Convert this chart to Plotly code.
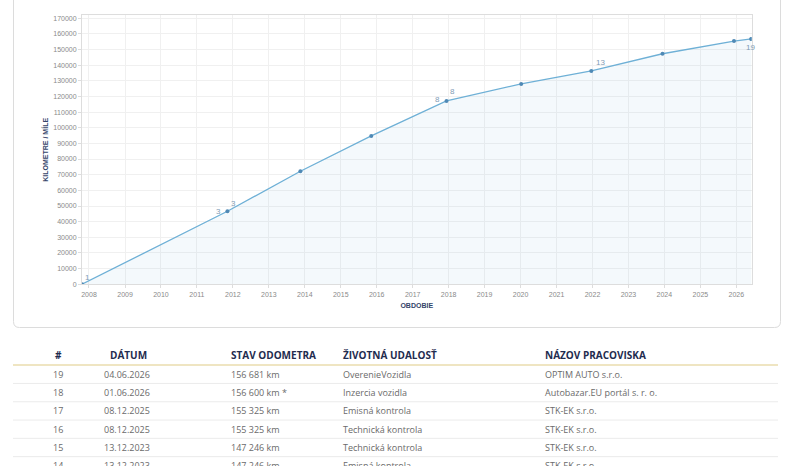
import plotly.graph_objects as go

W, H = 798, 466

# ---- chart data (distinct odometer readings) ----
dates = ["2007-10-22", "2011-11-07", "2013-11-17", "2015-11-07", "2017-12-10",
         "2020-01-08", "2021-12-20", "2023-12-13", "2025-12-08", "2026-06-01", "2026-06-04"]
km = [40, 46650, 72200, 94760, 117100, 128000, 136300, 147246, 155325, 156600, 156681]

# labels shown on the chart: (text, point index, xshift, yshift)
label_text = ["1", "3", "3", "8", "8", "13", "19"]
label_point = [0, 1, 1, 4, 4, 6, 10]
label_dx = [5, -9, 6, -9, 6, 9, -1]
label_dy = [7, 0, 8, 1, 9, 8, -9]

# ---- table data ----
tbl_headers = ["#", "DÁTUM", "STAV ODOMETRA", "ŽIVOTNÁ UDALOSŤ", "NÁZOV PRACOVISKA"]
tbl_no = ["19", "18", "17", "16", "15", "14"]
tbl_date = ["04.06.2026", "01.06.2026", "08.12.2025", "08.12.2025", "13.12.2023", "13.12.2023"]
tbl_odo = ["156 681 km", "156 600 km *", "155 325 km", "155 325 km", "147 246 km", "147 246 km"]
tbl_event = ["OverenieVozidla", "Inzercia vozidla", "Emisná kontrola", "Technická kontrola",
             "Technická kontrola", "Emisná kontrola"]
tbl_place = ["OPTIM AUTO s.r.o.", "Autobazar.EU portál s. r. o.", "STK-EK s.r.o.", "STK-EK s.r.o.",
             "STK-EK s.r.o.", "STK-EK s.r.o."]


def px(x):
    return x / W


def py(y):
    return 1 - y / H


fig = go.Figure()
fig.add_trace(go.Scatter(
    x=dates, y=km, mode="lines+markers",
    line=dict(color="#6eb0d6", width=1.3),
    marker=dict(color="#4f89b5", size=4),
    fill="tozeroy", fillcolor="rgba(106,170,208,0.07)",
    hoverinfo="x+y", showlegend=False,
))

annotations = []
for t, i, dx, dy in zip(label_text, label_point, label_dx, label_dy):
    annotations.append(dict(x=dates[i], y=km[i], xref="x", yref="y", text=t, showarrow=False,
                            xshift=dx, yshift=dy, font=dict(family="Liberation Sans", size=8, color="#7f9db5")))

# table header
hdr_y = 355
col_x = [58, 107.5, 228.5, 341, 543]
col_align = ["center", "left", "left", "left", "left"]
data_x = [58, 101.5, 228.5, 341, 543]
for h, x, a in zip(tbl_headers, col_x, col_align):
    annotations.append(dict(x=px(x), y=py(hdr_y), xref="paper", yref="paper", text="<b>%s</b>" % h,
                            showarrow=False, xanchor=a, yanchor="middle",
                            font=dict(family="Open Sans", size=10, color="#1f2c4f")))

row_y0, row_h = 374.3, 18.3
for r in range(len(tbl_no)):
    y = row_y0 + r * row_h
    vals = [tbl_no[r], tbl_date[r], tbl_odo[r], tbl_event[r], tbl_place[r]]
    for v, x, a in zip(vals, data_x, col_align):
        annotations.append(dict(x=px(x), y=py(y), xref="paper", yref="paper", text=v,
                                showarrow=False, xanchor=a, yanchor="middle",
                                font=dict(family="Open Sans", size=9, color="#6a6a6a")))

shapes = []
# card with rounded bottom corners
L, R, T, B, rr = 13.5, 780.5, -10, 327.5, 6
path = (f"M {px(L)},{py(T)} L {px(L)},{py(B - rr)} Q {px(L)},{py(B)} {px(L + rr)},{py(B)} "
        f"L {px(R - rr)},{py(B)} Q {px(R)},{py(B)} {px(R)},{py(B - rr)} L {px(R)},{py(T)}")
shapes.append(dict(type="path", path=path, xref="paper", yref="paper",
                   line=dict(color="#dcdcdc", width=1)))
# header line
shapes.append(dict(type="line", xref="paper", yref="paper", x0=px(13), x1=px(778),
                   y0=py(365), y1=py(365), line=dict(color="#eadcae", width=1.5)))
for r in range(len(tbl_no) - 1):
    y = row_y0 + r * row_h + row_h / 2
    shapes.append(dict(type="line", xref="paper", yref="paper", x0=px(13), x1=px(778),
                       y0=py(y), y1=py(y), line=dict(color="#ebebeb", width=1)))

tickfont = dict(family="Liberation Sans", size=7, color="#8a8a8a")
fig.update_layout(
    width=W, height=H, margin=dict(l=0, r=0, t=0, b=0),
    paper_bgcolor="white", plot_bgcolor="white",
    annotations=annotations, shapes=shapes,
    xaxis=dict(type="date", range=["2007-10-22", "2026-06-04"], domain=[px(82), px(751.5)],
               tick0="2008-01-01", dtick="M12", tickformat="%Y", tickfont=tickfont,
               showgrid=True, gridcolor="#f0f0f0", gridwidth=1,
               showline=True, linecolor="#dddddd", mirror=True,
               ticks="outside", ticklen=3, tickcolor="#dddddd",
               title=dict(text="<b>OBDOBIE</b>", font=dict(family="Liberation Sans", size=7, color="#34456a"),
                          standoff=6),
               automargin=False, zeroline=False),
    yaxis=dict(range=[0, 171800], domain=[py(284.3), py(15.3)], dtick=10000, tickformat="d",
               tickfont=tickfont, showgrid=True, gridcolor="#f0f0f0", gridwidth=1,
               showline=True, linecolor="#dddddd", mirror=True,
               ticks="outside", ticklen=3, tickcolor="#dddddd",
               title=dict(text="<b>KILOMETRE / MÍLE</b>", font=dict(family="Liberation Sans", size=7, color="#34456a"),
                          standoff=3),
               automargin=False, zeroline=False),
)

fig.write_html("out.html")
